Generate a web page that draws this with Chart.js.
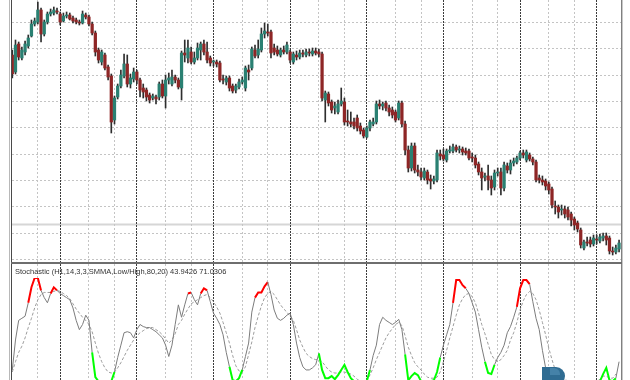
<!DOCTYPE html>
<html><head><meta charset="utf-8">
<script src="https://cdn.jsdelivr.net/npm/chart.js@4.4.1/dist/chart.umd.min.js"></script>
<style>
html,body{margin:0;padding:0;background:#fff;}
#wrap{position:relative;width:630px;height:380px;overflow:hidden;background:#fff;}
#main{position:absolute;left:12px;top:0;}
#stoch{position:absolute;left:12px;top:264px;}
.ln{position:absolute;}
#label{position:absolute;left:15px;top:267px;font-family:"Liberation Sans",Arial,sans-serif;font-size:7.5px;line-height:10px;color:#333;white-space:nowrap;}
#logo{position:absolute;left:542px;top:367px;width:23px;height:18px;background:#2f6c92;border-radius:0 12px 12px 0;}
#logo2{position:absolute;left:550px;top:368px;width:10px;height:7px;background:#4f8bb2;border-radius:0 6px 0 0;opacity:.7;}
</style></head><body>
<div id="wrap">
<canvas id="main" width="610" height="262"></canvas>
<canvas id="stoch" width="610" height="120"></canvas>
<div class="ln" style="left:9px;top:0;width:1px;height:380px;background:#b8b8b8"></div>
<div class="ln" style="left:11px;top:0;width:1px;height:380px;background:#4a4a4a"></div>
<div class="ln" style="left:621px;top:0;width:1px;height:380px;background:#808080"></div>
<div class="ln" style="left:622px;top:0;width:1px;height:380px;background:#c8c8c8"></div>
<div class="ln" style="left:11px;top:262px;width:611px;height:2px;background:#6e6e6e"></div>
<div id="label">Stochastic (H1,14,3,3,SMMA,Low/High,80,20) 43.9426 71.0306</div>
<div id="logo"></div><div id="logo2"></div>
</div>
<script>
// ---- price data (H1 candles, arbitrary price units) ----
const opens = [207,190,218,204,210,216,226,238,240,252,228,240,248,249,251,248,241,246,247,244,242,240,239,247,245,238,229,212,200,207,195,186,142,165,176,186,198,178,183,190,182,174,172,167,164,165,165,178,166,182,178,185,182,174,209,204,210,200,204,212,218,210,204,200,200,199,183,180,184,176,172,175,180,174,192,194,212,207,212,228,230,230,214,212,207,212,210,210,200,207,205,209,207,210,208,211,210,208,162,168,160,154,150,158,160,141,140,140,144,136,132,125,134,138,140,158,156,159,154,152,150,144,159,138,112,94,116,92,90,84,90,83,81,82,108,107,102,111,111,115,112,113,111,111,105,104,98,90,85,86,82,75,89,90,74,96,92,99,100,104,109,102,107,103,100,84,82,81,78,73,56,55,52,53,52,48,43,39,32,14,20,22,18,23,21,24,26,24,11,10,13];
const highs = [212,222,220,215,221,227,242,244,260,254,242,250,253,255,254,250,249,250,249,246,244,242,251,249,247,240,231,214,212,209,197,188,166,178,192,208,207,188,194,192,184,178,174,169,168,167,180,182,187,189,192,187,184,211,222,222,215,210,219,220,222,220,206,202,202,201,187,186,186,178,178,183,185,196,197,215,217,222,234,239,238,232,218,216,214,216,220,212,210,211,212,212,213,213,214,214,213,210,171,170,162,160,162,174,164,152,150,144,147,139,134,136,142,144,161,162,160,161,157,155,152,161,161,141,116,119,119,97,94,94,92,87,86,112,112,113,113,116,118,117,116,115,114,113,109,107,100,94,89,97,86,92,94,94,100,99,102,104,106,111,112,112,109,105,102,87,86,83,80,75,61,57,57,56,55,50,45,41,34,22,25,25,27,27,28,29,29,26,15,17,22];
const lows = [184,188,202,202,207,214,225,236,238,220,226,238,246,247,248,237,240,244,242,239,238,237,238,243,236,227,206,199,197,192,182,129,138,163,174,184,175,174,180,178,165,164,161,159,162,158,162,164,154,178,176,179,173,162,200,199,198,198,202,202,207,199,196,196,195,180,178,177,171,169,169,173,178,171,182,192,204,204,210,224,226,204,207,206,205,208,208,199,198,202,203,205,205,206,206,207,205,161,140,156,149,148,148,156,137,136,135,133,131,128,124,124,131,136,138,153,152,151,146,144,140,142,135,107,90,91,89,86,82,82,78,73,78,80,102,101,100,109,109,110,109,107,107,102,100,94,87,72,81,72,67,72,86,67,71,89,88,96,98,102,104,100,101,97,80,79,77,72,68,54,48,44,47,44,42,36,32,30,14,12,16,15,16,18,19,21,17,8,7,8,10];
const closes = [188,217,205,212,218,224,238,241,252,228,240,248,250,252,250,240,246,247,243,241,240,239,248,245,238,229,210,202,210,194,185,140,164,176,187,198,178,184,190,182,172,170,165,162,166,163,178,166,182,184,185,182,175,209,207,214,200,204,214,218,210,202,199,200,198,182,182,184,174,171,176,180,182,194,190,213,206,213,228,231,229,209,210,208,212,210,217,202,208,205,209,208,210,209,211,209,208,164,169,159,152,156,158,161,140,140,138,136,134,131,126,134,140,140,158,156,158,154,150,147,142,159,138,112,94,116,92,90,85,91,82,81,83,109,106,103,111,112,115,112,113,110,109,104,104,97,90,84,86,82,74,89,90,74,97,92,99,101,104,109,107,110,103,100,82,82,80,76,72,57,55,50,53,48,45,42,37,33,17,20,19,18,24,22,25,26,22,11,10,14,19];
const levelLine = 38;                       // horizontal line object
const priceGrid = [2.7,29.0,55.3,81.6,107.9,134.2,160.5,186.8,213.1,239.4];
const gridBars = [8,24,32,48,56,72,80,96,104,120,128,144,152,168,176];
const separatorBars = [15,39,63,87,111,135,159,183];

// ---- Stochastic (14,3,3 SMMA) ----
const stochK = [11,40,59,61,63,76,91,100,100,88,81,76,85,91,88,85,83,81,79,71,59,50,55,64,59,28,4,0,0,0,0,0,9,23,35,47,48,47,42,50,55,53,52,52,50,48,45,42,35,24,35,55,74,62,74,85,86,79,74,85,90,88,77,66,61,55,45,28,14,1,0,3,11,24,37,67,81,86,86,92,96,84,69,61,59,61,64,66,55,37,23,14,11,11,13,16,27,11,3,3,5,2,6,11,16,9,3,0,0,0,0,0,11,25,35,55,62,59,57,55,57,60,50,26,1,5,8,6,0,0,0,0,1,9,23,35,45,55,76,98,98,93,90,85,76,67,50,33,19,8,7,16,23,28,35,47,53,62,72,90,98,98,94,77,61,50,30,13,1,0,0,0,0,0,0,0,0,0,0,0,0,0,0,0,0,7,13,1,0,3,19];
const stochD = [9,19,28,34,42,52,61,71,79,84,86,86,86,87,88,87,85,83,80,75,70,66,62,59,55,48,37,27,19,13,9,8,9,13,18,24,30,35,40,44,47,49,51,52,52,50,48,45,41,37,40,46,55,59,65,70,75,77,79,81,83,84,81,77,72,66,57,47,37,25,15,10,9,14,26,38,52,63,73,81,85,87,84,79,74,70,67,63,59,50,40,33,27,24,22,21,21,19,15,11,9,8,8,9,9,8,7,5,2,0,0,1,6,13,21,28,35,42,47,51,55,57,54,44,33,25,18,14,11,7,4,3,3,4,9,19,30,42,53,64,74,80,84,85,82,76,66,55,46,36,26,21,19,21,25,30,40,47,57,69,78,84,87,85,79,69,57,45,32,21,11,4,1,1,1,0,0,0,0,0,0,0,0,0,2,5,5,3,3,7];
// coloured stretches of %K as seen on the chart: [firstBar, lastBar]
const overboughtRuns = [[5,9],[12,14],[55,56],[59,61],[76,80],[138,142],[158,162]];
const oversoldRuns = [[25,32],[68,72],[96,112],[123,134],[148,151],[167,189]];

const X0 = 12.3, STEP = 3.1935;
const xMin = (12 - X0) / STEP, xMax = (622 - X0) / STEP;
const idx = closes.map((_, i) => i);

function zoneOf(i) {
  for (const [a, b] of overboughtRuns) if (i >= a && i < b) return 1;
  for (const [a, b] of oversoldRuns) if (i >= a && i < b) return -1;
  return 0;
}

function vline(ctx, x, top, bottom, color, dash) {
  const px = Math.floor(x) + 0.5;
  ctx.save(); ctx.strokeStyle = color; ctx.lineWidth = 1; ctx.setLineDash(dash);
  ctx.beginPath(); ctx.moveTo(px, top); ctx.lineTo(px, bottom); ctx.stroke(); ctx.restore();
}
function hline(ctx, y, left, right, color, dash, w) {
  const py = Math.floor(y) + 0.5;
  ctx.save(); ctx.strokeStyle = color; ctx.lineWidth = w || 1; ctx.setLineDash(dash);
  ctx.beginPath(); ctx.moveTo(left, py); ctx.lineTo(right, py); ctx.stroke(); ctx.restore();
}

const gridPlugin = {
  id: 'mtgrid',
  beforeDatasetsDraw(chart, args, opts) {
    const ctx = chart.ctx, xs = chart.scales.x, ys = chart.scales.y;
    const H = chart.height, W = chart.width;
    if (opts.prices) {
      opts.prices.forEach(p => hline(ctx, ys.getPixelForValue(p), 0, W, '#c4c4c4', [2, 2]));
      hline(ctx, ys.getPixelForValue(levelLine), 0, W, '#d6d6d6', [], 2);
    }
    gridBars.forEach(b => vline(ctx, xs.getPixelForValue(b), 0, H, '#c4c4c4', [2, 2]));
    separatorBars.forEach(b => vline(ctx, xs.getPixelForValue(b), 0, H, '#3c3c3c', [2, 1]));
  }
};

const bull = '#2a8072', bear = '#8e2626';
new Chart(document.getElementById('main'), {
  type: 'bar',
  data: {
    datasets: [
      { label: 'wick', data: idx.map(i => ({ x: i, y: [lows[i], highs[i]] })),
        backgroundColor: '#2e2e2e', barThickness: 1, grouped: false, order: 2 },
      { label: 'body', data: idx.map(i => ({ x: i, y: [opens[i], closes[i]] })),
        backgroundColor: idx.map(i => closes[i] >= opens[i] ? bull : bear),
        borderColor: '#2e2e2e', borderWidth: 0,
        barThickness: 2.6, minBarLength: 1, grouped: false, order: 1 }
    ]
  },
  options: {
    responsive: false, animation: false, devicePixelRatio: 1,
    layout: { padding: 0 },
    plugins: { legend: { display: false }, tooltip: { enabled: false }, mtgrid: { prices: priceGrid } },
    scales: {
      x: { type: 'linear', min: xMin, max: xMax, offset: false, display: false },
      y: { type: 'linear', min: 0, max: 262, display: false }
    }
  },
  plugins: [gridPlugin]
});

new Chart(document.getElementById('stoch'), {
  type: 'line',
  data: {
    datasets: [
      { label: 'Signal', data: idx.map(i => ({ x: i, y: stochD[i] })),
        borderColor: '#9c9c9c', borderWidth: 1, borderDash: [3, 2], pointRadius: 0, tension: 0, order: 2 },
      { label: 'Main', data: idx.map(i => ({ x: i, y: stochK[i] })),
        borderColor: '#7c7c7c', borderWidth: 1, pointRadius: 0, tension: 0, order: 1,
        segment: {
          borderColor: c => { const z = zoneOf(c.p0DataIndex); return z === 1 ? '#ff0000' : z === -1 ? '#00ff00' : undefined; },
          borderWidth: c => zoneOf(c.p0DataIndex) !== 0 ? 2 : undefined
        } }
    ]
  },
  options: {
    responsive: false, animation: false, devicePixelRatio: 1,
    layout: { padding: { top: 14, bottom: 2.7, left: 0, right: 0 } },
    plugins: { legend: { display: false }, tooltip: { enabled: false }, mtgrid: {} },
    scales: {
      x: { type: 'linear', min: xMin, max: xMax, offset: false, display: false },
      y: { type: 'linear', min: 0, max: 100, display: false }
    }
  },
  plugins: [gridPlugin]
});
</script>
</body></html>
